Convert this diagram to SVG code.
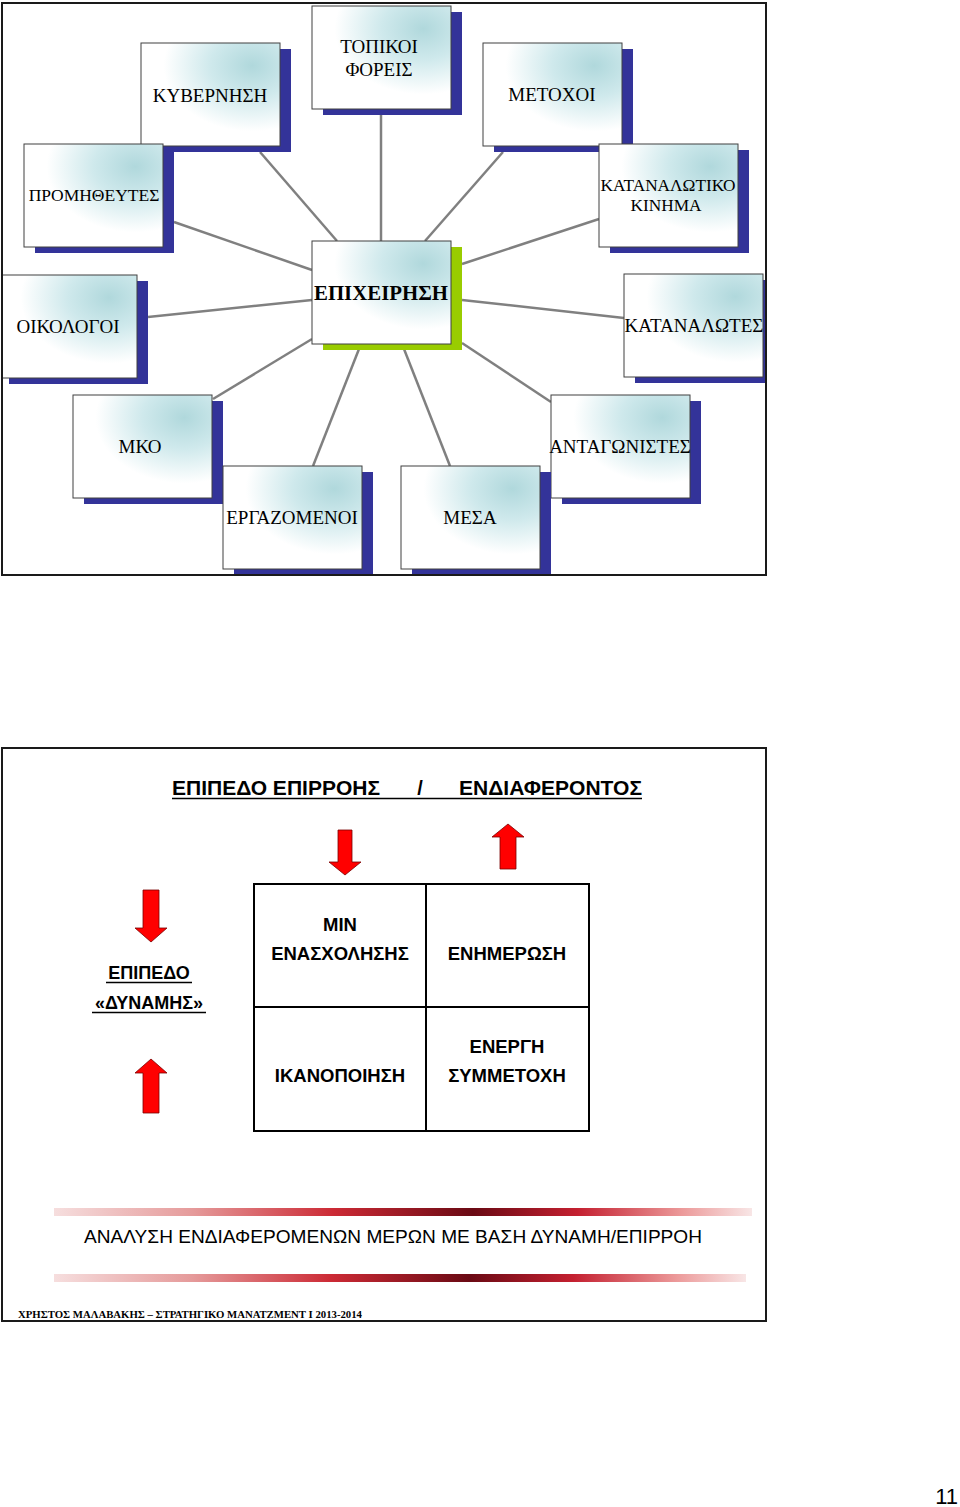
<svg xmlns="http://www.w3.org/2000/svg" width="960" height="1507" viewBox="0 0 960 1507">
<style>
.frame{fill:#fff;stroke:#1a1a1a;stroke-width:2}
.box{fill:url(#boxg);stroke:#404040;stroke-width:1}
.sh{fill:#333399}
.shg{fill:#99cc00}
.lbl{font-family:"Liberation Serif","Times New Roman",serif;font-size:19px;fill:#000;text-anchor:middle}
.conn line{stroke:#808080;stroke-width:2.5}
.ss{font-family:"Liberation Sans",Arial,sans-serif;fill:#000}
.b{font-weight:bold}
.arrow{fill:#ff0000;stroke:#7a0000;stroke-width:0.8}
.grid{fill:none;stroke:#000;stroke-width:2}
.mid{text-anchor:middle}
</style>
<defs>
<radialGradient id="boxg" cx="0.8" cy="0.22" r="0.75" fx="0.8" fy="0.22">
<stop offset="0" stop-color="#b0d8dc"/>
<stop offset="0.4" stop-color="#cfe9ec"/>
<stop offset="0.85" stop-color="#ffffff"/>
<stop offset="1" stop-color="#ffffff"/>
</radialGradient>
<linearGradient id="barg" x1="0" y1="0" x2="1" y2="0">
<stop offset="0" stop-color="#f6dede"/>
<stop offset="0.2" stop-color="#e59a9a"/>
<stop offset="0.4" stop-color="#cc2a35"/>
<stop offset="0.6" stop-color="#6a0a14"/>
<stop offset="0.75" stop-color="#c42030"/>
<stop offset="0.9" stop-color="#ec9a9a"/>
<stop offset="1" stop-color="#f8e6e6"/>
</linearGradient>
<clipPath id="clip1"><rect x="2" y="3" width="764" height="572"/></clipPath>
</defs>

<rect class="frame" x="2" y="3" width="764" height="572"/>
<g clip-path="url(#clip1)">
<g id="connectors" class="conn">
<line x1="260" y1="152" x2="337" y2="241"/>
<line x1="381" y1="115" x2="381" y2="241"/>
<line x1="503" y1="152" x2="425" y2="241"/>
<line x1="174" y1="222" x2="312" y2="270"/>
<line x1="599" y1="219" x2="462" y2="264"/>
<line x1="148" y1="317" x2="312" y2="300"/>
<line x1="462" y1="300" x2="624" y2="318"/>
<line x1="213" y1="399" x2="312" y2="339"/>
<line x1="313" y1="466" x2="359" y2="349"/>
<line x1="450" y1="466" x2="404" y2="349"/>
<line x1="551" y1="402" x2="462" y2="343"/>
</g>
<g id="n-topikoi"><rect class="sh" x="323" y="12" width="139" height="103"/><rect class="box" x="312" y="6" width="139" height="103"/><text class="lbl" x="379" y="53">ΤΟΠΙΚΟΙ</text><text class="lbl" x="379" y="76">ΦΟΡΕΙΣ</text></g>
<g id="n-kyvernisi"><rect class="sh" x="152" y="49" width="139" height="103"/><rect class="box" x="141" y="43" width="139" height="103"/><text class="lbl" x="210" y="102">ΚΥΒΕΡΝΗΣΗ</text></g>
<g id="n-metoxoi"><rect class="sh" x="494" y="49" width="139" height="103"/><rect class="box" x="483" y="43" width="139" height="103"/><text class="lbl" x="552" y="101">ΜΕΤΟΧΟΙ</text></g>
<g id="n-promitheftes"><rect class="sh" x="35" y="150" width="139" height="103"/><rect class="box" x="24" y="144" width="139" height="103"/><text class="lbl" x="94" y="201" style="font-size:17.5px">ΠΡΟΜΗΘΕΥΤΕΣ</text></g>
<g id="n-kinima"><rect class="sh" x="610" y="150" width="139" height="103"/><rect class="box" x="599" y="144" width="139" height="103"/><text class="lbl" x="668" y="191" style="font-size:17.3px">ΚΑΤΑΝΑΛΩΤΙΚΟ</text><text class="lbl" x="666" y="211" style="font-size:17.3px">ΚΙΝΗΜΑ</text></g>
<g id="n-oikologoi"><rect class="sh" x="9" y="281" width="139" height="103"/><rect class="box" x="-2" y="275" width="139" height="103"/><text class="lbl" x="68" y="333">ΟΙΚΟΛΟΓΟΙ</text></g>
<g id="n-epixeirisi"><rect class="shg" x="323" y="247" width="139" height="103"/><rect class="box" x="312" y="241" width="139" height="103"/><text class="lbl" x="381" y="300" style="font-weight:bold;font-size:20.5px" textLength="134" lengthAdjust="spacingAndGlyphs">ΕΠΙΧΕΙΡΗΣΗ</text></g>
<g id="n-katanalotes"><rect class="sh" x="635" y="280" width="139" height="103"/><rect class="box" x="624" y="274" width="139" height="103"/><text class="lbl" x="694" y="332">ΚΑΤΑΝΑΛΩΤΕΣ</text></g>
<g id="n-mko"><rect class="sh" x="84" y="401" width="139" height="103"/><rect class="box" x="73" y="395" width="139" height="103"/><text class="lbl" x="140" y="453">ΜΚΟ</text></g>
<g id="n-antagonistes"><rect class="sh" x="562" y="401" width="139" height="103"/><rect class="box" x="551" y="395" width="139" height="103"/><text class="lbl" x="620" y="453">ΑΝΤΑΓΩΝΙΣΤΕΣ</text></g>
<g id="n-ergazomenoi"><rect class="sh" x="234" y="472" width="139" height="103"/><rect class="box" x="223" y="466" width="139" height="103"/><text class="lbl" x="292" y="524">ΕΡΓΑΖΟΜΕΝΟΙ</text></g>
<g id="n-mesa"><rect class="sh" x="412" y="472" width="139" height="103"/><rect class="box" x="401" y="466" width="139" height="103"/><text class="lbl" x="470" y="524">ΜΕΣΑ</text></g>
</g>
<rect x="2" y="3" width="764" height="572" fill="none" stroke="#1a1a1a" stroke-width="2"/>

<rect class="frame" x="2" y="748" width="764" height="573"/>
<g id="title">
<text class="ss b" x="172" y="795" font-size="20" textLength="208" lengthAdjust="spacingAndGlyphs">ΕΠΙΠΕΔΟ ΕΠΙΡΡΟΗΣ</text>
<text class="ss b mid" x="420" y="795" font-size="20">/</text>
<text class="ss b" x="459" y="795" font-size="20" textLength="183" lengthAdjust="spacingAndGlyphs">ΕΝΔΙΑΦΕΡΟΝΤΟΣ</text>
<line x1="172" y1="798.5" x2="642" y2="798.5" stroke="#000" stroke-width="1.6"/>
</g>
<g id="arrows">
<path class="arrow" d="M338,830 H352 V862 H361 L345,875 L329,862 H338 Z"/>
<path class="arrow" d="M508,824 L524,837 H516 V869 H500 V837 H492 Z"/>
<path class="arrow" d="M143,890 H159 V928 H167 L151,942 L135,928 H143 Z"/>
<path class="arrow" d="M151,1059 L167,1073 H159 V1113 H143 V1073 H135 Z"/>
</g>
<g id="power-label">
<text class="ss b mid" x="149" y="979" font-size="18">ΕΠΙΠΕΔΟ</text>
<line x1="106" y1="982.5" x2="192" y2="982.5" stroke="#000" stroke-width="1.5"/>
<text class="ss b mid" x="149" y="1009" font-size="18">«ΔΥΝΑΜΗΣ»</text>
<line x1="92" y1="1012.5" x2="206" y2="1012.5" stroke="#000" stroke-width="1.5"/>
</g>
<g id="grid">
<rect class="grid" x="254" y="884" width="335" height="247"/>
<line x1="426" y1="884" x2="426" y2="1131" stroke="#000" stroke-width="2"/>
<line x1="254" y1="1007" x2="589" y2="1007" stroke="#000" stroke-width="2"/>
<text class="ss b mid" x="340" y="931" font-size="18.5">ΜΙΝ</text>
<text class="ss b mid" x="340" y="960" font-size="18.5">ΕΝΑΣΧΟΛΗΣΗΣ</text>
<text class="ss b mid" x="507" y="960" font-size="18.5">ΕΝΗΜΕΡΩΣΗ</text>
<text class="ss b mid" x="340" y="1082" font-size="18.5">ΙΚΑΝΟΠΟΙΗΣΗ</text>
<text class="ss b mid" x="507" y="1053" font-size="18.5">ΕΝΕΡΓΗ</text>
<text class="ss b mid" x="507" y="1082" font-size="18.5">ΣΥΜΜΕΤΟΧΗ</text>
</g>
<g id="caption">
<rect x="54" y="1208" width="698" height="8" fill="url(#barg)"/>
<text class="ss" x="84" y="1243" font-size="19" textLength="618" lengthAdjust="spacingAndGlyphs">ΑΝΑΛΥΣΗ ΕΝΔΙΑΦΕΡΟΜΕΝΩΝ ΜΕΡΩΝ ΜΕ ΒΑΣΗ ΔΥΝΑΜΗ/ΕΠΙΡΡΟΗ</text>
<rect x="54" y="1274" width="692" height="8" fill="url(#barg)"/>
</g>
<text x="18" y="1318" font-family="'Liberation Serif','Times New Roman',serif" font-weight="bold" font-size="10.5" textLength="344" lengthAdjust="spacingAndGlyphs">ΧΡΗΣΤΟΣ ΜΑΛΑΒΑΚΗΣ – ΣΤΡΑΤΗΓΙΚΟ ΜΑΝΑΤΖΜΕΝΤ Ι 2013-2014</text>
<text class="ss" x="958" y="1504" font-size="22" text-anchor="end">11</text>
</svg>
